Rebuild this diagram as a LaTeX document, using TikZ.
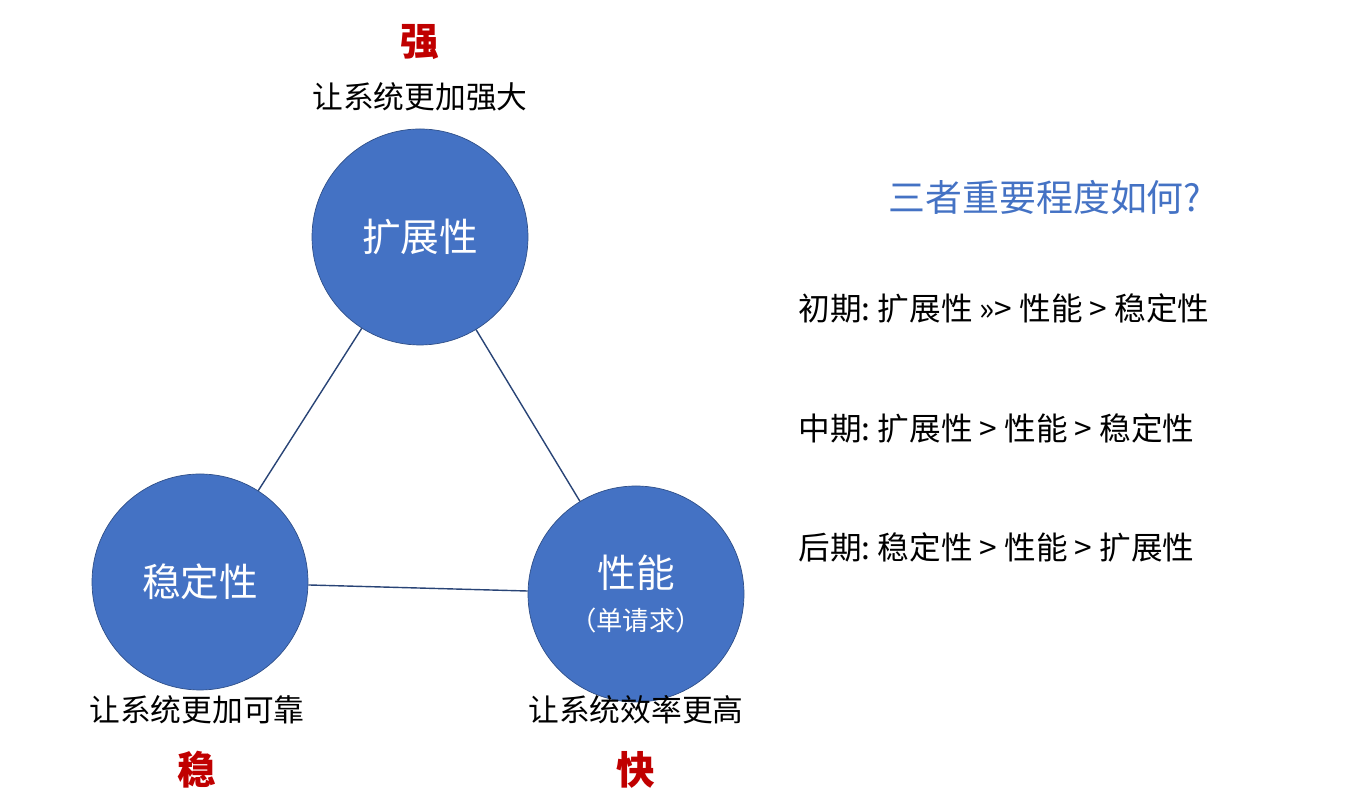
\documentclass[tikz,border=0pt]{standalone}
\usepackage{fontspec}
\setmainfont{Noto Sans CJK SC}
\usetikzlibrary{positioning}
\definecolor{ballblue}{RGB}{68,114,196}
\definecolor{keyred}{RGB}{192,0,0}
\tikzset{
  ball/.style={circle,fill=ballblue,draw=ballblue!70!black,minimum size=4.32cm,inner sep=0pt,text=white,font=\fontsize{22}{26}\selectfont},
  note/.style={font=\fontsize{17.5}{20}\selectfont},
  key/.style={text=keyred,font=\fontsize{22}{26}\selectfont\bfseries},
  rank/.style={anchor=west,font=\fontsize{18}{22}\selectfont}
}
\begin{document}
\begin{tikzpicture}
\useasboundingbox (0,0) rectangle (27.3,16.2);
           \node[ball] (ext) at (8.4,11.46) {扩展性};
           \node[ball] (stab) at (4.0,4.56) {稳定性};
           \node[ball,align=center] (perf) at (12.72,4.32) {性能\\[-2pt]{\fontsize{15}{18}\selectfont（单请求）}};
            \draw[ballblue!60!black,thick] (ext) -- (stab) (ext) -- (perf) (stab) -- (perf);
           \node[note] (extnote) at (8.4,14.26) {让系统更加强大};
           \node[key] (strong) at (8.4,15.36) {强};
           \node[note] (stabnote) at (3.94,2.0) {让系统更加可靠};
           \node[key] (steady) at (3.94,0.8) {稳};
           \node[note] (perfnote) at (12.72,2.0) {让系统效率更高};
           \node[key] (fast) at (12.72,0.8) {快};
           \node[text=ballblue,font=\fontsize{21}{25}\selectfont] (ask) at (20.9,12.26) {三者重要程度如何?};
           \node[rank] (early) at (15.85,10.04) {初期:\ 扩展性 >>> 性能 > 稳定性};
           \node[rank] (mid) at (15.85,7.64) {中期:\ 扩展性 > 性能 > 稳定性};
           \node[rank] (late) at (15.85,5.26) {后期:\ 稳定性 > 性能 > 扩展性};
    \end{tikzpicture}
\end{document}
